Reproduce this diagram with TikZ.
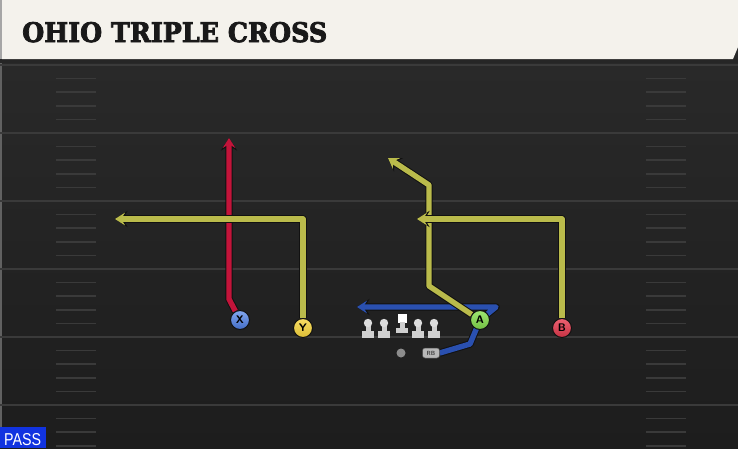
\documentclass[tikz,border=0pt]{standalone}
\usepackage{fontspec}
\usepackage{graphicx}
\setmainfont{Liberation Sans}
\newfontfamily\titlefont{DejaVu Serif}[BoldFeatures={FakeBold=3}]
\usetikzlibrary{arrows.meta}
\definecolor{fieldtop}{HTML}{2B2B2B}
\definecolor{fieldbot}{HTML}{1D1D1D}
\definecolor{yardc}{HTML}{3A3A3A}
\definecolor{cream}{HTML}{F4F2EC}
\definecolor{routered}{HTML}{C3143A}
\definecolor{routeyel}{HTML}{BABB4B}
\definecolor{routeblue}{HTML}{2A50B0}
\definecolor{routeline}{HTML}{111111}
\definecolor{xblue}{HTML}{4D80E8}
\definecolor{yyel}{HTML}{F5D33C}
\definecolor{agreen}{HTML}{86E04E}
\definecolor{bred}{HTML}{E83A4E}
\definecolor{passblue}{HTML}{1133E0}
\definecolor{lineman}{HTML}{CFCFCF}
\pgfdeclarelayer{field}
\pgfdeclarelayer{routes}
\pgfsetlayers{field,routes,main}
\tikzset{
  yard/.style={draw=yardc, line width=2pt},
  hashm/.style={draw=yardc, line width=1.5pt},
  route/.style={line width=5.4pt, line join=round,
    -{Stealth[length=3pt 1.3, width=3pt 1.8, inset=1.2pt 0.5]}},
  outl/.style={draw=routeline, line width=7.4pt},
  player/.style={circle, draw=routeline, line width=1pt, minimum size=19pt,
    inner sep=0pt, font=\sffamily\bfseries\fontsize{11}{11}\selectfont, text=black},
}
\newcommand\myroute[2]{\draw[route,outl] #2; \draw[route,draw=#1] #2;}
\begin{document}
\begin{tikzpicture}[x=1pt,y=-1pt]
\useasboundingbox (0,0) rectangle (738,448);
\begin{pgfonlayer}{field}
  \shade[top color=fieldtop, bottom color=fieldbot] (0,0) rectangle (738,448);
  \fill[yardc!80] (0,59) rectangle (2,448);
  \foreach \yy in {65,133,201,269,337,405} {
    \draw[yard] (0,\yy) -- (738,\yy);
    \foreach \k in {1,2,3,4} {
      \pgfmathsetmacro\hy{\yy+\k*13.6}
      \ifdim\hy pt<447pt
        \draw[hashm] (56,\hy) -- (96,\hy);
        \draw[hashm] (646,\hy) -- (686,\hy);
      \fi
    }
  }
  \fill[black!85] (0,59) rectangle (738,63);
  \fill[cream] (2,0) -- (738,0) -- (738,47) -- (733,59) -- (2,59) -- cycle;
  \fill[black!35] (0,0) rectangle (2,59);
\end{pgfonlayer}
\node[anchor=base west, inner sep=0pt, text=black!90] (title) at (22,42)
  {\resizebox{305pt}{20pt}{\titlefont\bfseries OHIO TRIPLE CROSS}};
% players
\node[player, top color=xblue!70!white, bottom color=xblue!85!black] (X) at (240,320) {X};
\node[player, top color=yyel!80!white, bottom color=yyel!90!black] (Y) at (303,328) {Y};
\node[player, top color=agreen!80!white, bottom color=agreen!85!black] (A) at (480,320) {A};
\node[player, top color=bred!80!white, bottom color=bred!85!black] (B) at (562,328) {B};
\node[circle, fill=black!45, minimum size=9pt, inner sep=0pt] (QB) at (401,353) {};
\node[rounded corners=2.5pt, fill=black!28, draw=black!70, line width=0.5pt,
  minimum width=17pt, minimum height=10pt, inner sep=0pt,
  font=\sffamily\bfseries\fontsize{6}{6}\selectfont, text=black!75] (RB) at (431,353) {RB};
% linemen
\foreach \lx in {368,384,418,434} {
  \fill[lineman] (\lx-2.5,322) rectangle (\lx+2.5,332);
  \fill[lineman] (\lx-6,331) rectangle (\lx+6,337.5);
  \fill[lineman!70!white] (\lx,323) circle (4.2);
}
\fill[white] (397.5,314) rectangle (406.5,323);
\fill[lineman] (399.5,322) rectangle (404.5,329);
\fill[lineman] (396,328) rectangle (408,333);
% waypoints
\coordinate (x1) at (229,299); \coordinate (x2) at (229,138);
\coordinate (y1) at (303,219); \coordinate (y2) at (115,219);
\coordinate (a1) at (429,286); \coordinate (a2) at (429,185); \coordinate (a3) at (388,158);
\coordinate (b1) at (562,219); \coordinate (b2) at (417,219);
\coordinate (r1) at (470,344); \coordinate (r2) at (480,320); \coordinate (r3) at (496,307); \coordinate (r4) at (357,307);
\begin{pgfonlayer}{routes}
  \myroute{routeblue}{(RB.east) -- (r1) -- (r2) -- (r3) -- (r4)}
  \myroute{routered}{(X) -- (x1) -- (x2)}
  \myroute{routeyel}{(Y) -- (y1) -- (y2)}
  \myroute{routeyel}{(A) -- (a1) -- (a2) -- (a3)}
  \myroute{routeyel}{(B) -- (b1) -- (b2)}
\end{pgfonlayer}
% pass label
\fill[passblue] (0,427) rectangle (46,448);
\node[anchor=base west, inner sep=0pt, text=white] (pass) at (4,445)
  {\resizebox{37pt}{12pt}{PASS}};
\end{tikzpicture}
\end{document}
